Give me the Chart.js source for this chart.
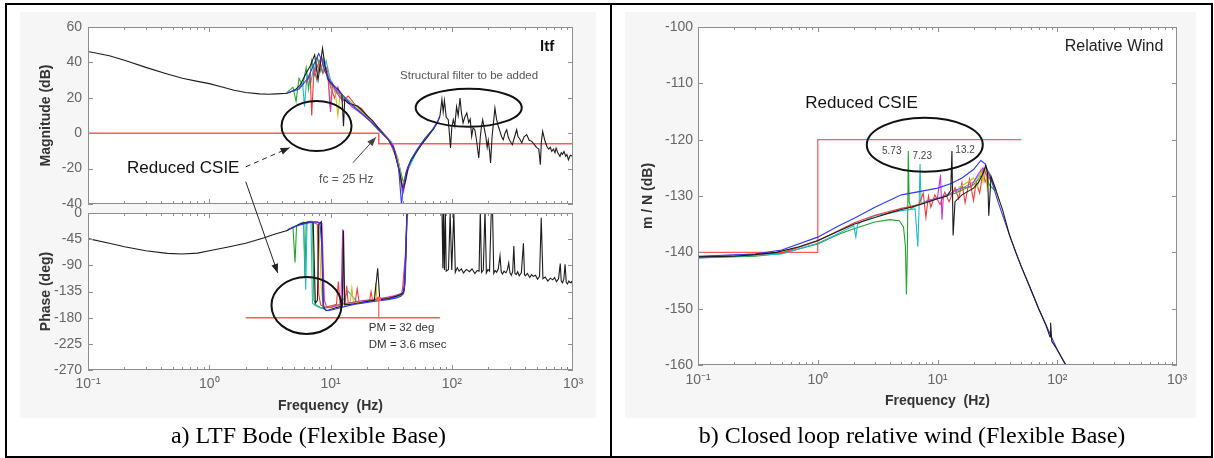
<!DOCTYPE html>
<html>
<head>
<meta charset="utf-8">
<title>LTF Bode and closed loop relative wind</title>
<script src="https://cdn.jsdelivr.net/npm/chart.js@4.4.1/dist/chart.umd.min.js"></script>
<style>
  html, body { margin: 0; padding: 0; background: #fff; }
  body { position: relative; width: 1214px; height: 458px; overflow: hidden; font-family: "Liberation Sans", Arial, sans-serif; }
  .fig { position: absolute; background: #f6f6f6; }
  .panel { position: absolute; top: 3px; height: 455px; border: 2px solid #000; box-sizing: border-box; }
  .plot { position: absolute; }
  .plot canvas { display: block; }
  .caption { position: absolute; top: 424px; font-family: "Liberation Serif", "Times New Roman", serif; font-size: 24px; line-height: 22px; text-align: center; color: #000; white-space: nowrap; }
  #overlay { position: absolute; left: 0; top: 0; pointer-events: none; }
</style>
</head>
<body>
<div class="fig" style="left:20px;top:12px;width:576px;height:406px"></div>
<div class="fig" style="left:625px;top:12px;width:571px;height:406px"></div>
<div class="panel" style="left:5px;width:607px"></div>
<div class="panel" style="left:610px;width:603px"></div>
<div class="plot" style="left:0;top:0"><canvas id="mag" width="610" height="208"></canvas></div>
<div class="plot" style="left:0;top:208px"><canvas id="phase" width="610" height="212"></canvas></div>
<div class="plot" style="left:610px;top:0"><canvas id="wind" width="604" height="420"></canvas></div>
<canvas id="overlay" width="1214" height="458"></canvas>
<div class="caption" style="left:7px;width:603px">a) LTF Bode (Flexible Base)</div>
<div class="caption" style="left:612px;width:600px">b) Closed loop relative wind (Flexible Base)</div>

<script>
// ---- axis ticks ----
const freqTicks = [0.1, 1, 10, 100, 1000];
const freqLabels = ['10\u207B\u00B9', '10\u2070', '10\u00B9', '10\u00B2', '10\u00B3'];

// ---- a) LTF magnitude (dB) ----
const magBlackHz = [0.1, 0.15, 0.2, 0.3, 0.45, 0.6, 0.8, 1, 1.3, 1.6,
  2, 2.6, 3.1, 3.6, 4.4, 5.1, 5.6, 6.2, 6.8, 7.4,
  7.9, 8.6, 9.0, 9.6, 10.5, 11.6, 12.4, 12.8, 13.1, 14,
  16.8, 20, 22.5, 26, 30, 33, 35, 37, 39, 40,
  41.5, 43.8, 47, 50.8, 57, 63.6, 70,
  76, 80, 83, 85, 87, 90, 93.6, 97.7, 100, 103,
  106, 109.6, 113, 117, 120, 124, 128, 133, 138, 142,
  146, 150, 155, 160, 167, 172, 176, 180, 185, 191,
  196, 200, 205, 209, 215, 221, 227, 234, 242, 250,
  258, 266, 275, 284, 292, 300, 316, 330, 343, 352,
  362, 378, 395, 415, 435, 457, 475, 500, 522, 538,
  548, 562, 585, 608, 630, 650, 668, 690, 710, 725,
  750, 781, 800, 820, 843, 870, 890, 916, 950, 1000];
const magBlack = [46.2, 43.8, 41.2, 37.2, 33.5, 31, 29.3, 28, 26, 24.3,
  23, 22.2, 22, 22.2, 22.6, 24.5, 27, 33, 38, 44.3,
  30, 48, 38, 30, 27, 24.6, 22, 4, 19, 17,
  15.2, 10, 6.7, 1, -3.7, -8, -15, -21, -30, -31,
  -27, -18.7, -14.5, -11.2, -6, -1.8, 2,
  5.8, 10, 19, 12, 18.5, 9, 7.6, -8.4, 3, 7.6,
  4, 15, 10, 19.9, 12, 5.8, 9, 11.4, 6, 8,
  -1.8, 3, 2, -4, -14, -2, 4, 7.6, 3, -1.8,
  -8, -4, -10, -16.8, -2, 6, 14.2, 8, 3.9, 1,
  -2, -3.7, 0, 2, -2, -4, -6.5, -2, 2, -2,
  -3, -5.5, -2, -0.8, -4, -4.6, -6, -8, -9, -17.8,
  -5, 1, -4, -7.4, -9, -8, -10.3, -9, -11, -8.4,
  -11, -13.1, -11, -12, -10.3, -13, -12, -15, -12.5, -13.1];
const magBlueHz = [4.5, 5.5, 6.5, 7.3, 8, 8.5, 9, 10, 12, 15, 20, 25, 30, 34, 36.5, 38.5, 40, 42, 46, 52, 60, 70, 80];
const magBlue = [22.8, 25, 31, 39, 45, 41, 35, 29, 23, 16, 8.5, 2, -3.5, -10, -20, -40, -30, -22, -15, -9, -3, 2.5, 9];
const magGreenHz = [4.3, 4.9, 5.2, 5.5, 5.9, 6.3, 6.6, 7.0, 7.4, 7.8, 8.3, 8.8, 9.4, 10.2, 11.5, 13, 16, 20, 25, 30, 35, 38, 40, 43, 50, 60, 72];
const magGreen = [22.5, 26, 18, 31, 27, 37, 25, 41, 33, 43, 35, 42, 31, 27, 23, 19, 14.5, 9, 1.5, -3.5, -12, -22, -28, -20, -11, -3, 3];
const magCyanHz = [5.5, 5.9, 6.1, 6.4, 6.9, 7.3, 7.7, 8.1, 8.6, 9.2, 10, 11, 12.5, 15, 20, 26, 32, 37, 39, 42, 50];
const magCyan = [25, 28, 15, 33, 29, 38, 30, 40, 34, 41, 30, 25, 21, 16, 9, 1, -5, -18, -33, -23, -12];
const magRedHz = [6.3, 6.8, 7.0, 7.3, 7.7, 8.2, 8.7, 9.3, 10, 10.8, 11.5, 12.5, 14, 16, 18, 21, 25, 30, 36, 39, 41, 45];
const magRed = [28, 33, 10, 36, 31, 40, 34, 37, 26, 20, 26, 18, 21, 16, 14, 8, 3, -3, -16, -32, -26, -17];
const magMagentaHz = [7.2, 7.8, 8.4, 9, 9.6, 10, 10.4, 11, 12, 13.5, 15, 18, 22, 27, 33, 38, 40, 44];
const magMagenta = [33, 38, 43, 38, 30, 12, 28, 24, 20, 18, 15, 11, 6, 0, -7, -26, -33, -19];
const magYellowHz = [7.5, 8, 8.5, 9, 9.5, 9.9, 10.3, 11, 11.5, 12, 14, 17, 21, 26, 31, 36, 39, 42];
const magYellow = [34, 39, 43, 37, 33, 15, 28, 22, 10, 22, 19, 14, 8, 1, -4, -14, -30, -24];
const magLimitHz = [0.1, 25, 25, 1000];
const magLimit = [0, 0, -6, -6];

// ---- a) LTF phase (deg) ----
const phBlackHz = [0.1, 0.15, 0.2, 0.3, 0.45, 0.6, 0.8, 1, 1.4, 2,
  2.8, 3.5, 4.4, 5.2, 6, 6.7, 7.2, 7.5, 7.8, 8.0,
  8.4, 8.7, 9.2, 10, 11, 12.5, 12.8, 13.1, 15, 18,
  20, 23, 24.5, 25.5, 30, 35, 38, 40, 41, 42,
  43, 80, 83, 84.5, 85.5, 87, 88.5, 90, 94, 97,
  100, 104, 107, 111, 115, 120, 125, 132, 140, 147,
  155, 162, 168, 172, 176, 182, 188, 193, 199, 205,
  212, 217, 222, 228, 235, 242, 250, 256, 262, 270,
  280, 288, 295, 302, 310, 318, 325, 332, 340, 350,
  360, 375, 390, 398, 405, 420, 440, 455, 470, 490,
  510, 530, 547, 565, 590, 620, 650, 680, 705, 730,
  760, 785, 800, 820, 840, 860, 880, 900, 925, 950, 975, 1000];
const phBlack = [-44, -52, -58, -65, -69.5, -70.5, -69, -65, -59, -52,
  -43, -36, -30, -22, -17, -15.5, -16, -155, -150, -20,
  -15, -160, -168, -166, -163, -160, -30, -158, -157, -154,
  -152, -150, -95, -149, -147, -143, -140, -136, -120, -60,
  20, 20, 10, -95, 5, -98, 5, -100, -97, 0,
  -98, 2, -102, -94, -100, -96, -103, -97, -101, -96,
  -104, -99, -100, 5, -102, -98, 5, -103, -97, -100,
  5, 5, -104, -99, -102, -96, -74, -101, -105, -100,
  -103, -97, -86, -103, -107, -101, -57, -104, -106, -101,
  -108, -103, -52, -106, -108, -104, -111, -106, -109, -107,
  -114, -109, -8, -113, -110, -117, -112, -115, -111, -118,
  -113, -87, -117, -120, -114, -88, -119, -122, -117, -120, -118, -125];
const phBlueHz = [4.5, 5.5, 6.5, 7.5, 8.2, 8.5, 8.8, 9.5, 11, 13, 16, 20, 25, 30, 35, 38, 40, 41, 41.8, 42.5, 44];
const phBlue = [-28, -21, -17, -15, -18, -60, -165, -168, -165, -161, -157, -154, -151, -149, -146, -143, -139, -125, -70, -10, 20];
const phGreenHz = [4.3, 4.9, 5.1, 5.25, 5.6, 6.0, 6.15, 6.3, 6.7, 7.1, 7.3, 7.6, 8.2, 9, 10, 12, 15, 18, 22, 27, 32, 37, 40, 41.5, 42.5, 44];
const phGreen = [-31, -24, -85, -22, -18, -16, -110, -17, -15, -15, -150, -158, -162, -163, -160, -158, -155, -152, -150, -148, -146, -142, -138, -110, -20, 20];
const phCyanHz = [5.5, 6.0, 6.25, 6.4, 6.6, 6.9, 7.1, 7.6, 8.5, 10, 12, 14, 17, 21, 26, 31, 36, 40, 42, 43];
const phCyan = [-20, -16, -132, -20, -15, -14, -155, -160, -164, -162, -158, -135, -156, -152, -150, -147, -144, -138, -60, 20];
const phRedHz = [6.0, 6.5, 7.0, 7.4, 7.8, 8.0, 8.3, 9, 10, 11.2, 11.6, 12, 13.2, 13.6, 14, 16, 16.6, 17.2, 19, 21, 21.6, 22.2, 25, 30, 35, 40, 42, 43];
const phRed = [-18, -15, -16, -17, -20, -140, -158, -162, -160, -157, -118, -157, -154, -125, -155, -153, -130, -153, -151, -150, -135, -150, -148, -146, -143, -138, -60, 20];
const phMagentaHz = [7.0, 7.8, 8.5, 8.9, 9.3, 10, 11, 12.2, 12.6, 13, 15, 18, 22, 28, 34, 39, 41.5, 43];
const phMagenta = [-16, -15, -18, -150, -162, -163, -160, -157, -28, -156, -154, -151, -149, -146, -142, -138, -70, 20];
const phYellowHz = [7.5, 8.0, 8.4, 8.7, 9.4, 10.5, 12, 14.5, 15, 15.5, 18, 23, 23.6, 24.2, 29, 33, 38, 41, 42.5, 44];
const phYellow = [-15, -17, -130, -160, -163, -161, -158, -155, -128, -155, -152, -149, -120, -149, -146, -144, -139, -120, -30, 20];
const phLimitHz = [2, 80];
const phLimit = [-180, -180];
const pmHz = [25, 25];
const pmDeg = [-180, -148];

// ---- b) closed loop relative wind, m/N (dB) ----
const windBlackHz = [0.1, 0.2, 0.3, 0.45, 0.7, 1, 1.5, 2, 3, 4,
  5, 6, 8, 10, 12, 12.9, 13.2, 13.5, 14, 16,
  20, 22, 24, 25.3, 26.2, 26.8, 28, 30, 35, 40,
  45, 50, 60, 70, 80, 87, 88, 90, 100, 120];
const windBlack = [-140.8, -140.7, -140.4, -140, -139, -137.9, -136.2, -135, -133.8, -133,
  -132.4, -132, -131.2, -130.5, -130, -129, -122, -137, -131, -129.8,
  -128.6, -127.6, -126, -124.6, -126, -133.5, -126.5, -128.3, -132.5, -137,
  -140, -142.5, -146.5, -150, -152.8, -155, -152.5, -155.8, -157.3, -160.3];
const windBlueHz = [0.1, 0.3, 0.5, 1, 1.5, 2, 3, 5, 8, 10, 13, 16, 20, 23, 25, 28, 32, 40, 50, 70, 100, 120];
const windBlue = [-140.7, -140.3, -139.6, -137.3, -135.3, -134, -132, -129.8, -129, -128.6, -127.8, -126.8, -125.3, -123.7, -124.3, -127, -131, -137, -142.5, -150, -157.3, -160.3];
const windGreenHz = [0.1, 0.3, 0.5, 1, 1.5, 2, 3, 4, 4.8, 5.2, 5.4, 5.5, 5.6, 5.7, 5.8, 6, 7, 8, 10, 14, 20, 25, 27, 30];
const windGreen = [-141, -140.7, -140.2, -138.5, -136.8, -135.8, -134.6, -134.2, -134.4, -135.5, -139, -147.5, -140, -122, -131, -132.2, -131.5, -131, -130.5, -129.5, -128, -125.5, -128, -129];
const windCyanHz = [0.1, 0.5, 1, 1.5, 2, 2.08, 2.15, 2.3, 3, 5, 6.5, 6.85, 7.0, 7.15, 7.3, 8, 10, 15, 20, 25, 28];
const windCyan = [-141, -140.3, -138.4, -136.6, -135.3, -137.3, -135, -134.6, -133.5, -132.6, -132.3, -139, -133, -124.3, -131.5, -131, -130.4, -129, -127.5, -125, -127.5];
const windRedHz = [0.1, 0.5, 1, 2, 3, 5, 7, 7.6, 8, 8.4, 8.8, 9.5, 10.5, 11.5, 12.5, 14, 15, 16, 17, 18.5, 20, 21, 22.5, 24, 25, 27, 30];
const windRed = [-140.8, -140.1, -138, -134.8, -133.4, -132.2, -131.5, -129.5, -133.8, -130, -132, -129.8, -131.5, -129.3, -131, -128.5, -130.5, -127.6, -131.2, -127, -130.8, -127.5, -129.5, -125.5, -127.5, -126, -128.5];
const windMagentaHz = [8, 10, 10.6, 10.9, 11.2, 12, 14, 16, 19, 22, 24, 26, 28, 31];
const windMagenta = [-131, -130.3, -126.2, -134.2, -130, -130, -129, -128.5, -128.4, -126, -125, -126.5, -127, -129];
const windYellowHz = [15, 18, 20, 21.5, 23, 24, 25, 26, 27, 28.5, 30, 33];
const windYellow = [-128.5, -127.5, -126.8, -128.5, -125.5, -127.5, -124.8, -128.5, -125.8, -127, -128.4, -131];
const windLimitHz = [0.1, 1, 1, 50];
const windLimit = [-140, -140, -120, -120];

// ---- drawing ----
const sans = '"Liberation Sans", Arial, sans-serif';
Chart.defaults.font.family = sans;

const C = { black: '#1c1c1c', blue: '#3434f4', green: '#22a52a', cyan: '#1fbcd0', red: '#f23a3a', magenta: '#cc33cc', yellow: '#c9c21c', limit: '#ff5a5a' };

function line(xs, ys, color, width) {
  return { data: xs.map((x, i) => ({ x: x, y: ys[i] })), showLine: true, borderColor: color, borderWidth: width || 1.1, pointRadius: 0, tension: 0, fill: false };
}

const axisBox = {
  id: 'axisBox',
  beforeDraw(chart) {
    const { ctx, chartArea: a } = chart;
    ctx.save();
    ctx.fillStyle = '#fff';
    ctx.fillRect(a.left, a.top, a.width, a.height);
    ctx.restore();
  },
  afterDatasetsDraw(chart) {
    const { ctx, chartArea: a, scales } = chart;
    const x = scales.x, y = scales.y;
    ctx.save();
    ctx.strokeStyle = '#8e8e8e';
    ctx.lineWidth = 1;
    ctx.beginPath();
    for (let d = -1; d < 3; d++) {
      for (let m = 1; m < 10; m++) {
        const px = Math.round(x.getPixelForValue(m * Math.pow(10, d))) + 0.5;
        const len = m === 1 ? 5 : 3;
        ctx.moveTo(px, a.bottom); ctx.lineTo(px, a.bottom - len);
        ctx.moveTo(px, a.top); ctx.lineTo(px, a.top + len);
      }
    }
    y.ticks.forEach(t => {
      const py = Math.round(y.getPixelForValue(t.value)) + 0.5;
      ctx.moveTo(a.left, py); ctx.lineTo(a.left + 5, py);
      ctx.moveTo(a.right, py); ctx.lineTo(a.right - 5, py);
    });
    ctx.stroke();
    ctx.strokeRect(Math.round(a.left) + 0.5, Math.round(a.top) + 0.5, Math.round(a.width) - 1, Math.round(a.height) - 1);
    ctx.restore();
  }
};

function freqAxis(height, labels, labelPad, titlePad) {
  return {
    type: 'logarithmic', min: 0.1, max: 1000,
    grid: { display: false, drawTicks: false },
    border: { display: false },
    afterBuildTicks: s => { s.ticks = freqTicks.map(v => ({ value: v })); },
    afterFit: s => { s.height = height; s.paddingLeft = 0; s.paddingRight = 0; },
    ticks: { display: labels, autoSkip: false, maxRotation: 0, padding: labelPad, color: '#666', font: { size: 14 },
      callback: (v, i) => freqLabels[i] },
    title: { display: labels, text: 'Frequency  (Hz)', color: '#333', font: { size: 14, weight: 'bold' }, padding: { top: 0, bottom: titlePad } }
  };
}

function valueAxis(min, max, step, title, titlePad, labelPad) {
  return {
    type: 'linear', min: min, max: max,
    grid: { display: false, drawTicks: false },
    border: { display: false },
    afterFit: s => { s.width = 88; s.paddingTop = 0; s.paddingBottom = 0; },
    ticks: { stepSize: step, padding: labelPad, color: '#666', font: { size: 14 } },
    title: { display: true, text: title, color: '#333', font: { size: 14, weight: 'bold' }, padding: { top: titlePad, bottom: 0 } }
  };
}

function makeChart(id, datasets, x, y, pad) {
  return new Chart(document.getElementById(id), {
    type: 'scatter',
    data: { datasets: datasets },
    options: {
      responsive: false, animation: false, devicePixelRatio: 1,
      layout: { padding: pad },
      plugins: { legend: { display: false }, tooltip: { enabled: false } },
      scales: { x: x, y: y }
    },
    plugins: [axisBox]
  });
}

const magChart = makeChart('mag', [
  line(magBlueHz, magBlue, C.blue),
  line(magBlackHz, magBlack, C.black),
  line(magMagentaHz, magMagenta, C.magenta),
  line(magYellowHz, magYellow, C.yellow),
  line(magRedHz, magRed, C.red),
  line(magCyanHz, magCyan, C.cyan),
  line(magGreenHz, magGreen, C.green),
  line(magLimitHz, magLimit, C.limit, 1.5)
], freqAxis(4, false, 0, 0), valueAxis(-40, 60, 20, 'Magnitude (dB)', 38, 6), { left: 0, right: 37, top: 27, bottom: 0 });

const pmDot = { data: [{ x: pmHz[1], y: pmDeg[1] }], showLine: false, pointRadius: 2.5, pointBackgroundColor: C.limit, pointBorderWidth: 0 };
const phaseChart = makeChart('phase', [
  pmDot,
  line(phBlueHz, phBlue, C.blue),
  line(phBlackHz, phBlack, C.black),
  line(phMagentaHz, phMagenta, C.magenta),
  line(phYellowHz, phYellow, C.yellow),
  line(phRedHz, phRed, C.red),
  line(phCyanHz, phCyan, C.cyan),
  line(phGreenHz, phGreen, C.green),
  line(phLimitHz, phLimit, C.limit, 1.5),
  line(pmHz, pmDeg, C.limit, 1.2)
], freqAxis(50, true, 6, 5), valueAxis(-270, 0, 45, 'Phase (deg)', 38, 6), { left: 0, right: 37, top: 5, bottom: 0 });

const windChart = makeChart('wind', [
  line(windBlackHz, windBlack, C.black),
  line(windBlueHz, windBlue, C.blue),
  line(windMagentaHz, windMagenta, C.magenta),
  line(windYellowHz, windYellow, C.yellow),
  line(windRedHz, windRed, C.red),
  line(windCyanHz, windCyan, C.cyan),
  line(windGreenHz, windGreen, C.green),
  line(windLimitHz, windLimit, C.limit, 1.3)
], freqAxis(55, true, 7, 10), valueAxis(-160, -100, 10, 'm / N (dB)', 30, 5), { left: 0, right: 37, top: 27, bottom: 0 });

// ---- annotations (placed in data coordinates, drawn over all three plots) ----
const ov = document.getElementById('overlay').getContext('2d');
const OFF = { mag: [0, 0], phase: [0, 208], wind: [610, 0] };
function at(chart, off, f, v) {
  return [off[0] + chart.scales.x.getPixelForValue(f), off[1] + chart.scales.y.getPixelForValue(v)];
}
function ellipse(p, rx, ry) {
  ov.save();
  ov.strokeStyle = '#111'; ov.lineWidth = 2;
  ov.beginPath(); ov.ellipse(p[0], p[1], rx, ry, 0, 0, Math.PI * 2); ov.stroke();
  ov.restore();
}
function arrow(p, q, color, dashed) {
  ov.save();
  ov.strokeStyle = color; ov.fillStyle = color; ov.lineWidth = 1;
  if (dashed) ov.setLineDash([5, 4]);
  ov.beginPath(); ov.moveTo(p[0], p[1]); ov.lineTo(q[0], q[1]); ov.stroke();
  ov.setLineDash([]);
  const a = Math.atan2(q[1] - p[1], q[0] - p[0]), L = 9, W = 3.5;
  ov.beginPath();
  ov.moveTo(q[0], q[1]);
  ov.lineTo(q[0] - L * Math.cos(a) + W * Math.sin(a), q[1] - L * Math.sin(a) - W * Math.cos(a));
  ov.lineTo(q[0] - L * Math.cos(a) - W * Math.sin(a), q[1] - L * Math.sin(a) + W * Math.cos(a));
  ov.closePath(); ov.fill();
  ov.restore();
}
function text(str, p, font, color, align) {
  ov.save();
  ov.font = font; ov.fillStyle = color;
  ov.textAlign = align || 'center'; ov.textBaseline = 'middle';
  ov.fillText(str, p[0], p[1]);
  ov.restore();
}

// magnitude
text('ltf', at(magChart, OFF.mag, 611, 48.9), 'bold 15px ' + sans, '#111');
text('Structural filter to be added', at(magChart, OFF.mag, 139, 32.5), '11.5px ' + sans, '#555');
ellipse(at(magChart, OFF.mag, 7.67, 4), 35, 25);
ellipse(at(magChart, OFF.mag, 138, 14.4), 53, 19);
text('Reduced CSIE', at(magChart, OFF.mag, 0.61, -20), '17px ' + sans, '#111');
arrow(at(magChart, OFF.mag, 2.0, -19), at(magChart, OFF.mag, 4.6, -8.2), '#222', true);
arrow(at(magChart, OFF.mag, 2.0, -27.4), at(phaseChart, OFF.phase, 3.67, -103), '#222', false);
text('fc = 25 Hz', at(magChart, OFF.mag, 13.5, -26.3), '12px ' + sans, '#555');
arrow(at(magChart, OFF.mag, 15.3, -16.7), at(magChart, OFF.mag, 23.7, -2.3), '#444', false);

// phase
ellipse(at(phaseChart, OFF.phase, 6.34, -159), 35, 28.5);
text('PM = 32 deg', at(phaseChart, OFF.phase, 20.7, -197.8), '11.5px ' + sans, '#333', 'left');
text('DM = 3.6 msec', at(phaseChart, OFF.phase, 20.7, -227), '11.5px ' + sans, '#333', 'left');

// relative wind
text('Relative Wind', at(windChart, OFF.wind, 298, -103.55), '16px ' + sans, '#222');
text('Reduced CSIE', at(windChart, OFF.wind, 2.32, -113.5), '17px ' + sans, '#111');
ellipse(at(windChart, OFF.wind, 7.83, -120.9), 58, 27);
text('5.73', at(windChart, OFF.wind, 4.15, -122), '10px ' + sans, '#444');
text('7.23', at(windChart, OFF.wind, 7.46, -122.9), '10px ' + sans, '#444');
text('13.2', at(windChart, OFF.wind, 17, -121.8), '10px ' + sans, '#444');
</script>
</body>
</html>
